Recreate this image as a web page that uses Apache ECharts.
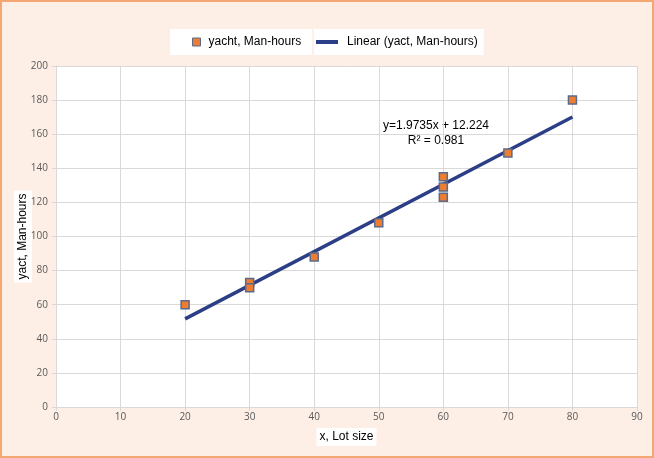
<!DOCTYPE html>
<html>
<head>
<meta charset="utf-8">
<script src="https://cdn.jsdelivr.net/npm/echarts@6/dist/echarts.min.js"></script>
<style>
  html, body { margin: 0; padding: 0; }
  #chart {
    width: 654px; height: 458px;
    box-sizing: border-box;
    border: 2px solid #f4a772;
    background: #fdefe6;
  }
</style>
</head>
<body>
<div id="chart"></div>
<script>
// lot size vs man-hours
var lotSize = [20, 30, 30, 40, 50, 60, 60, 60, 70, 80];
var manHours = [60, 73, 70, 88, 108, 135, 129, 123, 149, 180];
// trend line end points, from y=1.9735x + 12.224
var trendX = [20, 80];
var trendY = [51.7, 170.1];

var xTicks = { min: 0, max: 90, interval: 10 };
var yTicks = { min: 0, max: 200, interval: 20 };

var chart = echarts.init(document.getElementById('chart'));

var pts = lotSize.map(function (x, i) { return [x, manHours[i]]; });
var trend = trendX.map(function (x, i) { return [x, trendY[i]]; });

var font = '"Liberation Sans", Arial, sans-serif';
var lblFont = '"Open Sans", sans-serif';

chart.setOption({
  backgroundColor: 'transparent',
  textStyle: { fontFamily: font },
  animation: false,
  grid: {
    left: 54, right: 15, top: 64, bottom: 49,
    outerBoundsMode: 'none', containLabel: false,
    backgroundColor: '#fff', show: true, borderWidth: 0
  },
  legend: [
    {
      top: 27,
      left: 168,
      backgroundColor: '#fff',
      padding: [7, 11, 7, 22],
      itemWidth: 8,
      itemHeight: 8,
      itemGap: 0,
      textStyle: { fontSize: 12, color: '#000', fontFamily: font, padding: [0, 10, 0, 3] },
      data: [
        { name: 'yacht, Man-hours', icon: 'rect', itemStyle: { color: '#ed7d31', borderColor: '#5b6a8a', borderWidth: 1 } }
      ]
    },
    {
      top: 27,
      left: 312,
      width: 175,
      backgroundColor: '#fff',
      padding: [7, 6, 7, 2],
      itemWidth: 22,
      itemHeight: 4,
      textStyle: { fontSize: 12, color: '#000', fontFamily: font, padding: [0, 0, 0, 4] },
      data: [
        { name: 'Linear (yact, Man-hours)', icon: 'rect', itemStyle: { color: '#2c3e86' } }
      ]
    }
  ],
  xAxis: {
    type: 'value',
    min: xTicks.min, max: xTicks.max, interval: xTicks.interval,
    name: 'x, Lot size',
    nameLocation: 'middle',
    nameGap: 21,
    nameMoveOverlap: false,
    nameTextStyle: { color: '#000', fontSize: 12, backgroundColor: '#fff', padding: [3, 3, 3, 3] },
    axisLine: { lineStyle: { color: '#d9d9d9' } },
    axisTick: { show: true, length: 4, lineStyle: { color: '#d9d9d9' } },
    axisLabel: { color: '#595959', fontSize: 10, margin: 5, fontFamily: lblFont },
    splitLine: { lineStyle: { color: '#d9d9d9' } }
  },
  yAxis: {
    type: 'value',
    min: yTicks.min, max: yTicks.max, interval: yTicks.interval,
    name: 'yact, Man-hours',
    nameLocation: 'middle',
    nameGap: 24,
    nameMoveOverlap: false,
    nameRotate: 90,
    nameTextStyle: { color: '#000', fontSize: 12, backgroundColor: '#fff', padding: [3, 3, 3, 3] },
    axisLine: { show: true, lineStyle: { color: '#d9d9d9' } },
    axisTick: { show: true, length: 4, lineStyle: { color: '#d9d9d9' } },
    axisLabel: { color: '#595959', fontSize: 10, margin: 8, fontFamily: lblFont },
    splitLine: { lineStyle: { color: '#d9d9d9' } }
  },
  series: [
    {
      name: 'yacht, Man-hours',
      type: 'scatter',
      symbol: 'rect',
      symbolSize: 8,
      z: 3,
      itemStyle: { color: '#ed7d31', borderColor: '#5b6a8a', borderWidth: 1.5, opacity: 1 },
      data: pts
    },
    {
      name: 'Linear (yact, Man-hours)',
      type: 'line',
      symbol: 'none',
      z: 2,
      lineStyle: { color: '#2c3e86', width: 3.5 },
      itemStyle: { color: '#2c3e86' },
      data: trend
    }
  ],
  graphic: [
    {
      type: 'text',
      x: 434, y: 116,
      style: {
        text: 'y=1.9735x + 12.224\nR² = 0.981',
        font: '12px ' + font,
        fill: '#000',
        align: 'center',
        lineHeight: 15
      }
    }
  ]
});
</script>
</body>
</html>
